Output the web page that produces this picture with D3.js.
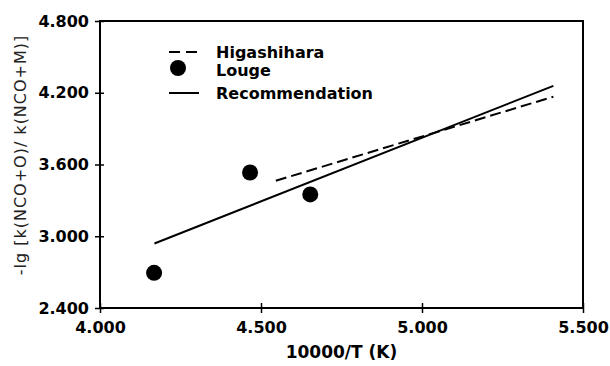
<!DOCTYPE html>
<html>
<head>
<meta charset="utf-8">
<script src="https://cdn.jsdelivr.net/npm/d3@7"></script>
<style>
  body { margin: 0; background: #fff; }
  svg { display: block; }
  .tick text { font-family: "DejaVu Sans", sans-serif; font-weight: bold; font-size: 16px; fill: #000; }
</style>
</head>
<body>
<div id="chart"></div>
<script>
// data
const xTicks = [4.0, 4.5, 5.0, 5.5];
const yTicks = [2.4, 3.0, 3.6, 4.2, 4.8];

const lougeX = [4.168, 4.466, 4.653];
const lougeY = [2.694, 3.533, 3.350];

const recoX = [4.169, 5.408];
const recoY = [2.939, 4.258];

const higaX = [4.546, 5.408];
const higaY = [3.464, 4.167];

const legendNames = ['Higashihara', 'Louge', 'Recommendation'];

const width = 610, height = 366;
const margin = { top: 21, right: 27, bottom: 58, left: 100 };

const svg = d3.select('#chart').append('svg')
    .attr('width', width)
    .attr('height', height);

const x = d3.scaleLinear().domain([4.0, 5.5]).range([margin.left, width - margin.right]);
const y = d3.scaleLinear().domain([2.4, 4.8]).range([height - margin.bottom, margin.top]);

const fmt = d3.format('.3f');

// frame
svg.append('rect')
    .attr('x', x(4.0))
    .attr('y', y(4.8))
    .attr('width', x(5.5) - x(4.0))
    .attr('height', y(2.4) - y(4.8))
    .attr('fill', 'none')
    .attr('stroke', '#000')
    .attr('stroke-width', 2);

// y axis
const yAxis = svg.append('g')
    .attr('transform', `translate(${x(4.0)},0)`)
    .call(d3.axisLeft(y).tickValues(yTicks).tickFormat(fmt).tickSize(5).tickPadding(6));
yAxis.select('.domain').remove();
yAxis.selectAll('.tick line').attr('x1', 4).attr('x2', -5).attr('stroke-width', 1.5);

// x axis
const xAxis = svg.append('g')
    .attr('transform', `translate(0,${y(2.4)})`)
    .call(d3.axisBottom(x).tickValues(xTicks).tickFormat(fmt).tickSize(5).tickPadding(9));
xAxis.select('.domain').remove();
xAxis.selectAll('.tick line').attr('y1', -5).attr('y2', 5).attr('stroke-width', 1.5);

// axis titles
svg.append('text')
    .attr('x', (x(4.0) + x(5.5)) / 2)
    .attr('y', 358)
    .attr('text-anchor', 'middle')
    .attr('font-family', 'DejaVu Sans, sans-serif')
    .attr('font-weight', 'bold')
    .attr('font-size', 17)
    .text('10000/T (K)');

svg.append('text')
    .attr('transform', 'translate(26,155) rotate(-90)')
    .attr('text-anchor', 'middle')
    .attr('font-family', 'DejaVu Sans, sans-serif')
    .attr('font-size', 16)
    .attr('letter-spacing', 1)
    .attr('fill', '#222')
    .text('-lg [k(NCO+O)/ k(NCO+M)]');

const line = d3.line().x(d => x(d[0])).y(d => y(d[1]));

// Recommendation
svg.append('path')
    .datum(d3.zip(recoX, recoY))
    .attr('d', line)
    .attr('fill', 'none')
    .attr('stroke', '#000')
    .attr('stroke-width', 2);

// Higashihara
svg.append('path')
    .datum(d3.zip(higaX, higaY))
    .attr('d', line)
    .attr('fill', 'none')
    .attr('stroke', '#000')
    .attr('stroke-width', 2)
    .attr('stroke-dasharray', '11,5');

// Louge
svg.selectAll('circle.louge')
    .data(d3.zip(lougeX, lougeY))
    .join('circle')
    .attr('class', 'louge')
    .attr('cx', d => x(d[0]))
    .attr('cy', d => y(d[1]))
    .attr('r', 8)
    .attr('fill', '#000');

// legend
const lg = svg.append('g');
const lx0 = 169, lx1 = 199, tx = 216;

lg.append('line')
    .attr('x1', lx0).attr('x2', lx1).attr('y1', 52).attr('y2', 52)
    .attr('stroke', '#000').attr('stroke-width', 2).attr('stroke-dasharray', '11,6');
lg.append('circle')
    .attr('cx', (lx0 + lx1) / 2 - 6).attr('cy', 68).attr('r', 8).attr('fill', '#000');
lg.append('line')
    .attr('x1', lx0).attr('x2', lx1).attr('y1', 93).attr('y2', 93)
    .attr('stroke', '#000').attr('stroke-width', 2);

const legendY = [58, 76, 99];
lg.selectAll('text')
    .data(legendNames)
    .join('text')
    .attr('x', tx)
    .attr('y', (d, i) => legendY[i])
    .attr('font-family', 'DejaVu Sans, sans-serif')
    .attr('font-weight', 'bold')
    .attr('font-size', 16)
    .text(d => d);
</script>
</body>
</html>
